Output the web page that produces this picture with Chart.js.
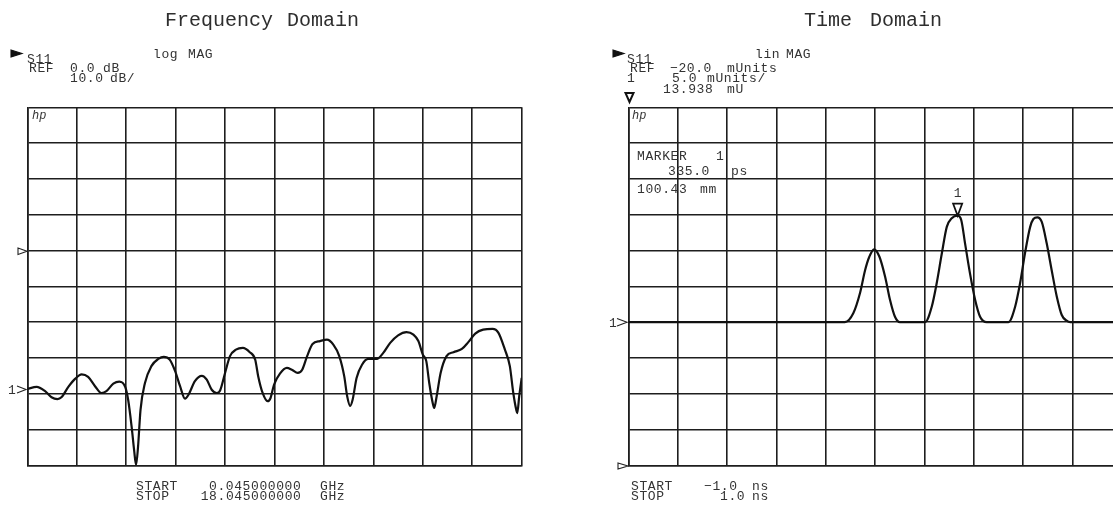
<!DOCTYPE html>
<html>
<head>
<meta charset="utf-8">
<title>Frequency Domain / Time Domain</title>
<script src="https://cdn.jsdelivr.net/npm/chart.js@4.4.1/dist/chart.umd.min.js"></script>
<style>
  html, body { margin:0; padding:0; background:#fff; width:1113px; height:510px; overflow:hidden; }
  #wrap { position:relative; width:1113px; height:510px; overflow:hidden; }
  #wrap canvas { position:absolute; top:0; }
  #freqChart { left:0; }
  #timeChart { left:590px; }
  #marks { position:absolute; left:0; top:0; }
  .t { position:absolute; font-family:"Liberation Mono","DejaVu Sans Mono",monospace; font-size:13px;
       letter-spacing:0.6px; color:#333; white-space:pre; line-height:normal; }
  .title { font-size:20px; letter-spacing:0; color:#2e2e2e; }
  .hp { font-style:italic; font-size:12px; letter-spacing:0; }
</style>
</head>
<body>
<div id="wrap">
  <canvas id="freqChart" width="560" height="510"></canvas>
  <canvas id="timeChart" width="560" height="510"></canvas>
  <svg id="marks" width="1113" height="510" fill="none" stroke="#222" stroke-width="1.1">
    <!-- channel arrows -->
    <polygon points="11,50 22,53.5 11,57" fill="#111" stroke="#111"/>
    <polygon points="613,50 624,53.5 613,57" fill="#111" stroke="#111"/>
    <!-- active marker symbol in the header -->
    <polygon points="625.5,93 633.5,93 629.5,102" stroke="#111" stroke-width="2"/>
    <!-- reference position markers -->
    <polygon points="18,248 27,251.3 18,254.5"/>
    <polygon points="618,463 628,466 618,469"/>
    <!-- trace 1 reference -->
    <polyline points="17,386 26,389.5 17,393"/>
    <polyline points="617,318.5 627,322.3 617,326"/>
  </svg>
</div>
<script>
/* ------------------ Data ------------------ */
// Frequency domain: S11 log magnitude
const freqGHz = [0.045,0.387,0.693,0.927,1.143,1.287,1.539,1.791,2.025,2.259,
  2.511,2.745,2.925,3.177,3.393,3.609,3.717,3.843,3.933,4.005,
  4.077,4.167,4.329,4.563,4.815,5.013,5.229,5.427,5.607,5.787,
  5.913,6.147,6.399,6.579,6.759,6.939,7.065,7.245,7.425,7.641,
  7.893,8.145,8.343,8.451,8.613,8.793,8.901,9.027,9.243,9.495,
  9.675,9.891,10.053,10.233,10.431,10.701,10.953,11.187,11.403,11.583,
  11.691,11.799,11.889,12.033,12.231,12.465,12.771,13.005,13.257,13.545,
  13.851,14.103,14.283,14.445,14.571,14.679,14.805,14.859,14.949,15.093,
  15.309,15.561,15.867,16.101,16.353,16.641,16.983,17.199,17.433,17.613,
  17.739,17.847,17.883,17.955,18.045];
const s11dB = [-38.7,-38.1,-39.3,-41.0,-41.5,-41.0,-38.1,-35.8,-34.6,-35.3,
  -37.9,-39.8,-39.3,-37.2,-36.6,-38.1,-41.7,-49.2,-55.7,-59.9,
  -54.8,-44.5,-37.0,-32.3,-30.3,-29.7,-30.5,-33.7,-37.9,-41.4,
  -40.3,-36.5,-35.0,-36.1,-38.9,-39.8,-39.1,-34.2,-29.5,-27.7,
  -27.2,-28.4,-30.5,-35.1,-39.8,-42.1,-41.2,-37.5,-34.4,-32.8,
  -33.3,-34.2,-33.3,-29.5,-26.1,-25.3,-24.9,-26.3,-29.5,-35.1,
  -40.7,-43.4,-41.7,-35.6,-31.9,-30.3,-30.3,-28.6,-25.8,-23.7,
  -22.8,-23.5,-25.3,-29.1,-30.9,-37.0,-42.6,-44.0,-40.7,-34.2,
  -29.5,-28.4,-27.5,-25.6,-23.2,-22.1,-21.9,-23.0,-27.7,-32.3,
  -39.8,-44.5,-45.4,-40.7,-35.6];
const freqRange = [0.045, 18.045];   // START / STOP, GHz
const dbRange = [-60, 40];           // 10 dB/div, REF 0.0 dB

// Time domain: S11 linear magnitude
const timeNs = [-1.0,-0.122,-0.088,-0.061,-0.040,-0.023,-0.004,0.018,0.041,0.061,
  0.081,0.101,0.203,0.230,0.250,0.271,0.291,0.311,0.335,0.350,
  0.365,0.385,0.406,0.426,0.453,0.541,0.568,0.588,0.608,0.629,
  0.642,0.658,0.676,0.696,0.716,0.737,0.757,0.777,0.791,1.0];
const magMU = [0,0,1.23,4.02,7.28,9.13,10.17,9.13,6.34,3.09,
  0.75,0,0,2.15,5.42,9.61,13.3,14.5,14.86,14.2,
  11.0,6.8,3.09,0.75,0,0,2.15,5.42,9.61,13.3,
  14.4,14.64,14.0,11.0,7.28,3.55,0.99,0.2,0,0];
const timeRange = [-1.0, 1.0];       // START / STOP, ns
const muRange = [-20, 30];           // 5.0 mUnits/div, REF -20.0 mUnits
const markerTime = 0.335;            // marker 1, ns

/* ------------------ Helpers ------------------ */
const wrap = document.getElementById('wrap');
function label(text, x, base, cls) {
  const el = document.createElement('div');
  el.className = 't' + (cls ? ' ' + cls : '');
  el.textContent = text;
  const size = cls === 'title' ? 20 : (cls === 'hp' ? 12 : 13);
  el.style.left = x + 'px';
  el.style.top = (base - 0.833 * size) + 'px';
  wrap.appendChild(el);
  return el;
}

// ten equal divisions, like the analyzer graticule
function tenDivisions(scale) {
  const step = (scale.max - scale.min) / 10;
  scale.ticks = Array.from({length: 11}, (_, i) => ({ value: scale.min + i * step }));
}

function graticule(range) {
  return {
    type: 'linear', min: range[0], max: range[1],
    afterBuildTicks: tenDivisions,
    ticks: { display: false },
    grid: { color: '#1e1e1e', lineWidth: 1.6, drawTicks: false },
    border: { color: '#1e1e1e', width: 1.6 }
  };
}

function baseOptions(pad) {
  return {
    responsive: false, animation: false, devicePixelRatio: 1,
    layout: { padding: pad },
    plugins: { legend: { display: false }, tooltip: { enabled: false } },
    elements: { point: { radius: 0 } },
    scales: {}
  };
}

/* ------------------ Frequency Domain ------------------ */
const freqOpts = baseOptions({ left: 27.3, top: 107.3, right: 38.3, bottom: 44.7 });
freqOpts.scales.x = graticule(freqRange);
freqOpts.scales.y = graticule(dbRange);
const freqChart = new Chart(document.getElementById('freqChart'), {
  type: 'line',
  data: { datasets: [{
    data: freqGHz.map((f, i) => ({ x: f, y: s11dB[i] })),
    borderColor: '#111', borderWidth: 2.2, fill: false,
    cubicInterpolationMode: 'monotone'
  }]},
  options: freqOpts
});

/* ------------------ Time Domain ------------------ */
const peakMarker = {
  id: 'peakMarker',
  afterDatasetsDraw(chart) {
    const { ctx, scales: { x, y } } = chart;
    const px = x.getPixelForValue(markerTime);
    const py = y.getPixelForValue(magMU[timeNs.indexOf(markerTime)]);
    ctx.save();
    ctx.strokeStyle = '#111';
    ctx.lineWidth = 1.8;
    ctx.beginPath();
    ctx.moveTo(px - 4.5, py - 12);
    ctx.lineTo(px + 4.5, py - 12);
    ctx.lineTo(px, py);
    ctx.closePath();
    ctx.stroke();
    ctx.restore();
  }
};
const timeOpts = baseOptions({ left: 38.3, top: 107.3, right: 28.3, bottom: 44.7 });
timeOpts.scales.x = graticule(timeRange);
timeOpts.scales.y = graticule(muRange);
const timeChart = new Chart(document.getElementById('timeChart'), {
  type: 'line',
  data: { datasets: [{
    data: timeNs.map((t, i) => ({ x: t, y: magMU[i] })),
    borderColor: '#111', borderWidth: 2.2, fill: false,
    cubicInterpolationMode: 'monotone'
  }]},
  options: timeOpts,
  plugins: [peakMarker]
});

/* ------------------ Annotation text ------------------ */
// left panel
label('Frequency', 165, 26, 'title');
label('Domain', 287, 26, 'title');
label('S11', 27, 62.5);
label('log', 153, 57.5);
label('MAG', 188, 57.5);
label('REF', 29, 71.5);
label('0.0', 70, 71.5);
label('dB', 103, 71.5);
label('10.0', 70, 82);
label('dB/', 110, 82);
label('hp', 32, 119, 'hp');
label('1', 8, 394);
label('START', 136, 489.5);
label('0.045000000', 209, 489.5);
label('GHz', 320, 489.5);
label('STOP', 136, 500);
label('18.045000000', 200.7, 500);
label('GHz', 320, 500);

// right panel
label('Time', 804, 26, 'title');
label('Domain', 870, 26, 'title');
label('S11', 627, 62.5);
label('lin', 755, 57.5);
label('MAG', 786, 57.5);
label('REF', 630, 71.5);
label('\u221220.0', 670, 71.5);
label('mUnits', 727, 71.5);
label('1', 627, 82);
label('5.0', 672, 82);
label('mUnits/', 707, 82);
label('13.938', 663, 92.5);
label('mU', 727, 92.5);
label('hp', 632, 119, 'hp');
label('MARKER', 637, 159.5);
label('1', 716, 159.5);
label('335.0', 668, 174.5);
label('ps', 731, 174.5);
label('100.43', 637, 192.5);
label('mm', 700, 192.5);
label('1', 609, 327);
label('START', 631, 489.5);
label('\u22121.0', 704, 489.5);
label('ns', 752, 489.5);
label('STOP', 631, 500);
label('1.0', 720, 500);
label('ns', 752, 500);

// marker number above the peak, placed through the time scale
const mx = 590 + timeChart.scales.x.getPixelForValue(markerTime);
const my = timeChart.scales.y.getPixelForValue(magMU[timeNs.indexOf(markerTime)]);
label('1', mx - 4, my - 19);
</script>
</body>
</html>
